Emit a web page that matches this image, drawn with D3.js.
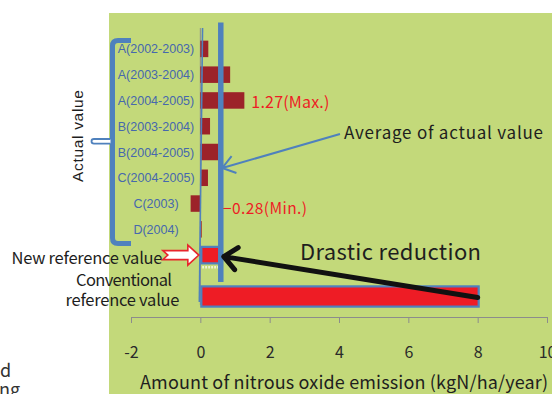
<!DOCTYPE html>
<html>
<head>
<meta charset="utf-8">
<script src="https://cdn.jsdelivr.net/npm/d3@7"></script>
<style>
  html, body { margin: 0; padding: 0; background: #fff; }
  svg { display: block; }
</style>
</head>
<body>
<svg id="chart" width="552" height="394"></svg>
<script>
// Measured N2O emissions per site/season (kgN/ha/year)
const categories = ["A(2002-2003)", "A(2003-2004)", "A(2004-2005)", "B(2003-2004)",
                    "B(2004-2005)", "C(2004-2005)", "C(2003)", "D(2004)"];
const actualValues = [0.23, 0.86, 1.27, 0.28, 0.52, 0.22, -0.28, 0.04];
const averageValue = 0.59;
const newReferenceValue = 0.52;
const conventionalReferenceValue = 8.0;
const xTicks = [-2, 0, 2, 4, 6, 8, 10];

const W = 552, H = 394;
const svg = d3.select("#chart");

const C = {
  bg: "#c3d97a",
  bar: "#9c2329",
  red: "#ee1c25",
  blue: "#4f81bd",
  label: "#4668ad",
  text: "#1e1e1e",
  axis: "#8c8c8c"
};
const jp = "'Noto Sans CJK JP', 'Noto Sans', sans-serif";
const sans = "'Liberation Sans', Arial, sans-serif";

// plot background
svg.append("rect").attr("x", 109).attr("y", 13).attr("width", W - 109).attr("height", H - 13).attr("fill", C.bg);

// scales
const x = d3.scaleLinear().domain([-2, 10]).range([131, 547]);
const rows = categories.concat(["New reference value"]);
const y = d3.scaleBand().domain(rows).range([36, 268]).paddingInner(0.36).paddingOuter(0.18);
const yConv = d3.scaleBand().domain(["Conventional reference value"]).range([280, 313]).padding(0.24);
const cy = d => y(d) + y.bandwidth() / 2;

// x axis
const axisY = 317;
const xAxis = d3.axisBottom(x).tickValues(xTicks).tickSize(6).tickSizeOuter(0).tickPadding(24);
const gx = svg.append("g").attr("transform", `translate(0,${axisY})`).call(xAxis);
gx.select(".domain").attr("stroke", C.axis).attr("stroke-width", 1);
gx.selectAll(".tick line").attr("stroke", C.axis);
gx.selectAll(".tick text").attr("fill", "#2a2a2a").attr("font-family", jp).attr("font-size", 16)
  .text(d => d < 0 ? "-" + Math.abs(d) : d);

svg.append("text")
  .attr("x", 140).attr("y", 389)
  .attr("font-family", jp).attr("font-size", 18).attr("fill", C.text)
  .attr("textLength", 408).attr("lengthAdjust", "spacing")
  .text("Amount of nitrous oxide emission (kgN/ha/year)");

// category axis line at zero
svg.append("line")
  .attr("x1", x(0)).attr("x2", x(0)).attr("y1", 28).attr("y2", 305)
  .attr("stroke", C.axis).attr("stroke-width", 1);

// actual value bars
svg.append("g").selectAll("rect").data(actualValues).join("rect")
  .attr("x", d => x(Math.min(0, d)))
  .attr("y", (d, i) => y(categories[i]))
  .attr("width", d => Math.abs(x(d) - x(0)))
  .attr("height", y.bandwidth())
  .attr("fill", C.bar);

// category labels
svg.append("g").selectAll("text").data(categories).join("text")
  .attr("x", 156).attr("y", d => cy(d) + 4.5)
  .attr("text-anchor", "middle")
  .attr("font-family", sans).attr("font-size", 12.5).attr("fill", C.label)
  .text(d => d);

// reference value bars
svg.append("rect")
  .attr("x", x(0) + 1).attr("y", y("New reference value"))
  .attr("width", x(newReferenceValue) - x(0)).attr("height", y.bandwidth())
  .attr("fill", C.red).attr("stroke", C.blue).attr("stroke-width", 2.2);
svg.append("line")
  .attr("x1", x(0) + 2).attr("x2", x(newReferenceValue))
  .attr("y1", y("New reference value") + y.bandwidth() + 4)
  .attr("y2", y("New reference value") + y.bandwidth() + 4)
  .attr("stroke", "#ffffff").attr("stroke-width", 2.5).attr("stroke-dasharray", "1.5,1.5").attr("opacity", 0.85);
svg.append("rect")
  .attr("x", x(0) + 1).attr("y", yConv("Conventional reference value"))
  .attr("width", x(conventionalReferenceValue) - x(0)).attr("height", yConv.bandwidth())
  .attr("fill", C.red).attr("stroke", C.blue).attr("stroke-width", 2.2);

// hand-drawn zero line
svg.append("line")
  .attr("x1", x(0) + 2.2).attr("y1", 28).attr("x2", x(0) - 1).attr("y2", 302)
  .attr("stroke", C.blue).attr("stroke-width", 1.6);

// average line
svg.append("line")
  .attr("x1", x(averageValue)).attr("x2", x(averageValue)).attr("y1", 22.5).attr("y2", 282)
  .attr("stroke", C.blue).attr("stroke-width", 5.5);

// max / min labels
const iMax = d3.maxIndex(actualValues), iMin = d3.minIndex(actualValues);
svg.append("text")
  .attr("x", x(actualValues[iMax]) + 7).attr("y", cy(categories[iMax]) + 8)
  .attr("font-family", jp).attr("font-size", 16).attr("fill", C.red)
  .attr("textLength", 78).attr("lengthAdjust", "spacing")
  .text(d3.format(".2f")(actualValues[iMax]) + "(Max.)");
svg.append("text")
  .attr("x", 223).attr("y", cy(categories[iMin]) + 10)
  .attr("font-family", jp).attr("font-size", 15.5).attr("fill", C.red)
  .attr("textLength", 84).attr("lengthAdjust", "spacing")
  .text(d3.format(".2f")(actualValues[iMin]) + "(Min.)");

// average annotation
svg.append("text")
  .attr("x", 344).attr("y", 139)
  .attr("font-family", jp).attr("font-size", 17).attr("fill", C.text)
  .attr("textLength", 199).attr("lengthAdjust", "spacing")
  .text("Average of actual value");

function arrowHead(tip, from, len, ang) {
  const a = Math.atan2(from[1] - tip[1], from[0] - tip[0]);
  const p1 = [tip[0] + len * Math.cos(a + ang), tip[1] + len * Math.sin(a + ang)];
  const p2 = [tip[0] + len * Math.cos(a - ang), tip[1] + len * Math.sin(a - ang)];
  return `M${p1}L${tip}L${p2}`;
}
const avgTip = [x(averageValue) + 1.5, 168];
const avgFrom = [340, 134];
svg.append("path")
  .attr("d", `M${avgFrom}L${avgTip}` + arrowHead(avgTip, avgFrom, 15, 0.62))
  .attr("fill", "none").attr("stroke", C.blue).attr("stroke-width", 2).attr("stroke-linejoin", "miter");

// bracket around actual values
svg.append("path")
  .attr("d", "M131,40.5 H118 Q112.5,40.5 112.5,46 V238 Q112.5,243.5 118,243.5 H131")
  .attr("fill", "none").attr("stroke", C.blue).attr("stroke-width", 5);
svg.append("path")
  .attr("d", "M110.5,139 H94 Q91.5,139 91.5,141.3 Q91.5,143.6 94,143.6 H110.5")
  .attr("fill", "#fff").attr("stroke", C.blue).attr("stroke-width", 1.8);

svg.append("text")
  .attr("transform", "translate(83,136) rotate(-90)")
  .attr("text-anchor", "middle")
  .attr("font-family", sans).attr("font-size", 15.5).attr("fill", C.text)
  .attr("textLength", 92).attr("lengthAdjust", "spacing")
  .text("Actual value");

// reference labels
svg.append("text")
  .attr("x", 11.5).attr("y", 264)
  .attr("font-family", jp).attr("font-size", 16.5).attr("fill", C.text)
  .attr("textLength", 151).attr("lengthAdjust", "spacing")
  .text("New reference value");
svg.append("text")
  .attr("x", 76).attr("y", 286)
  .attr("font-family", jp).attr("font-size", 16.5).attr("fill", C.text)
  .attr("textLength", 96).attr("lengthAdjust", "spacing")
  .text("Conventional");
svg.append("text")
  .attr("x", 65.5).attr("y", 306)
  .attr("font-family", jp).attr("font-size", 16.5).attr("fill", C.text)
  .attr("textLength", 114).attr("lengthAdjust", "spacing")
  .text("reference value");

// hollow red arrow pointing at the new reference bar
const rt = [x(0) - 1.5, cy("New reference value")];
svg.append("path")
  .attr("d", `M${rt[0] - 36},${rt[1] - 4.5} H${rt[0] - 11} V${rt[1] - 10} L${rt[0]},${rt[1]} L${rt[0] - 11},${rt[1] + 10} V${rt[1] + 4.5} H${rt[0] - 36} L${rt[0] - 31},${rt[1]} Z`)
  .attr("fill", "#fff").attr("stroke", "#e8262c").attr("stroke-width", 1.6);

// drastic reduction arrow
const dTail = [x(conventionalReferenceValue), yConv("Conventional reference value") + yConv.bandwidth() / 2 + 1];
const dTip = [x(averageValue) + 3, cy("New reference value") + 1.5];
svg.append("path")
  .attr("d", `M${dTail}L${dTip}` + arrowHead(dTip, dTail, 17, 0.72))
  .attr("fill", "none").attr("stroke", "#111").attr("stroke-width", 5)
  .attr("stroke-linecap", "round").attr("stroke-linejoin", "round");
svg.append("text")
  .attr("x", 300).attr("y", 260)
  .attr("font-family", jp).attr("font-size", 22).attr("fill", C.text)
  .attr("textLength", 181).attr("lengthAdjust", "spacing")
  .text("Drastic reduction");

// text running in from the left edge
svg.append("text").attr("x", 0).attr("y", 377)
  .attr("font-family", jp).attr("font-size", 18).attr("fill", "#333").text("d");
svg.append("text").attr("x", -1).attr("y", 396)
  .attr("font-family", jp).attr("font-size", 18).attr("fill", "#333").text("ng");
</script>
</body>
</html>
